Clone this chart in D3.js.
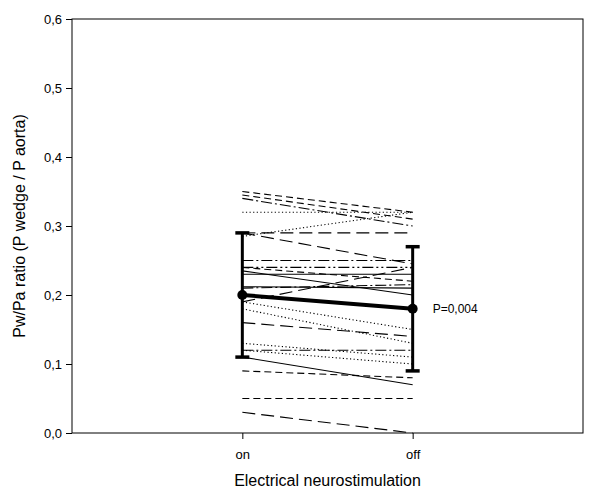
<!DOCTYPE html>
<html>
<head>
<meta charset="utf-8">
<script src="https://cdnjs.cloudflare.com/ajax/libs/d3/7.8.5/d3.min.js"></script>
<style>
body{margin:0;background:#fff}
svg{display:block;font-family:Arial,"Liberation Sans",sans-serif}
</style>
</head>
<body>
<div id="c"></div>
<script>
// paired Pw/Pa ratios per patient, stimulation on vs off
const conditions = ["on", "off"];
const onVals  = [0.350, 0.345, 0.340, 0.320, 0.290, 0.290, 0.285, 0.250, 0.240, 0.240, 0.235, 0.230, 0.212, 0.210, 0.190, 0.190, 0.180, 0.160, 0.130, 0.120, 0.120, 0.110, 0.090, 0.050, 0.030];
const offVals = [0.320, 0.310, 0.300, 0.320, 0.290, 0.245, 0.320, 0.250, 0.220, 0.240, 0.200, 0.230, 0.210, 0.215, 0.240, 0.150, 0.130, 0.140, 0.110, 0.120, 0.100, 0.070, 0.080, 0.050, 0.000];
const lineKind = ["dash","dash","dashdot","dot","long","long","dot","dashdot","dash","dashdotdot","solid","solid","solid","dashdot","long","dot","dot","long","dot","dashdot","dot","solid","dash","dash","long"];
const means = [0.20, 0.18];
const sds   = [0.09, 0.09];
const yTicks = [0, 0.1, 0.2, 0.3, 0.4, 0.5, 0.6];
const pText = "P=0,004";

const dashOf = {solid:null, dash:"7,4", long:"13,6", dot:"1.2,2.4", dashdot:"11,3,2,3", dashdotdot:"11,3,2,3,2,3"};

const W = 592, H = 498, mg = {l:72, r:9, t:19, b:65};
const svg = d3.select("#c").append("svg").attr("width", W).attr("height", H);

const x = d3.scaleLinear().domain([0, 3]).range([mg.l, W - mg.r]);
const y = d3.scaleLinear().domain([0, 0.6]).range([H - mg.b, mg.t]);
const xi = i => x(i + 1);

// frame
svg.append("rect").attr("x", mg.l).attr("y", mg.t)
  .attr("width", W - mg.r - mg.l).attr("height", H - mg.b - mg.t)
  .attr("fill", "none").attr("stroke", "#000").attr("stroke-width", 1);

const fmt = d => d3.format(".1f")(d).replace(".", ",");
const ya = svg.append("g").attr("transform", `translate(${mg.l},0)`)
  .call(d3.axisLeft(y).tickValues(yTicks).tickFormat(fmt).tickSizeOuter(0).tickSize(6).tickPadding(4));
ya.select(".domain").remove();
ya.selectAll("text").attr("font-size", 13).attr("fill", "#000").attr("font-family", "Arial,'Liberation Sans',sans-serif");

const xa = svg.append("g").attr("transform", `translate(0,${H - mg.b})`)
  .call(d3.axisBottom(x).tickValues([1, 2]).tickFormat(d => conditions[d - 1]).tickSize(6).tickPadding(11));
xa.select(".domain").remove();
xa.selectAll("text").attr("font-size", 13).attr("fill", "#000").attr("font-family", "Arial,'Liberation Sans',sans-serif");

// individual patients
onVals.forEach((v, i) => {
  svg.append("line")
    .attr("x1", xi(0)).attr("y1", y(v))
    .attr("x2", xi(1)).attr("y2", y(offVals[i]))
    .attr("stroke", "#000").attr("stroke-width", 1.1)
    .attr("stroke-dasharray", dashOf[lineKind[i]]);
});

// mean +- sd
const cap = 7;
means.forEach((m, i) => {
  const g = svg.append("g");
  g.append("line").attr("x1", xi(i)).attr("x2", xi(i))
    .attr("y1", y(m - sds[i])).attr("y2", y(m + sds[i]))
    .attr("stroke", "#000").attr("stroke-width", 3);
  [m - sds[i], m + sds[i]].forEach(v => {
    g.append("line").attr("x1", xi(i) - cap).attr("x2", xi(i) + cap)
      .attr("y1", y(v)).attr("y2", y(v))
      .attr("stroke", "#000").attr("stroke-width", 3.5);
  });
});
svg.append("line").attr("x1", xi(0)).attr("y1", y(means[0]))
  .attr("x2", xi(1)).attr("y2", y(means[1]))
  .attr("stroke", "#000").attr("stroke-width", 4);
means.forEach((m, i) => {
  svg.append("circle").attr("cx", xi(i)).attr("cy", y(m)).attr("r", 5).attr("fill", "#000");
});

svg.append("text").attr("x", xi(1) + 20).attr("y", y(means[1])).attr("dy", "0.35em")
  .attr("font-size", 12).text(pText);

svg.append("text").attr("x", (mg.l + W - mg.r) / 2).attr("y", 486)
  .attr("text-anchor", "middle").attr("font-size", 16).text("Electrical neurostimulation");

svg.append("text").attr("transform", `translate(25,${(mg.t + H - mg.b) / 2}) rotate(-90)`)
  .attr("text-anchor", "middle").attr("font-size", 16).text("Pw/Pa ratio (P wedge / P aorta)");
</script>
</body>
</html>
